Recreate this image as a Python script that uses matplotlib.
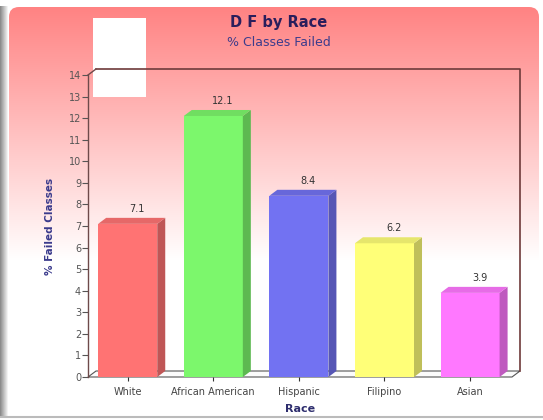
#!/usr/bin/env python

import numpy as np
import matplotlib
matplotlib.use('Agg')
import matplotlib.pyplot as plt
from matplotlib.patches import Polygon, Rectangle, FancyBboxPatch
from matplotlib.transforms import IdentityTransform

races = ['White', 'African American', 'Hispanic', 'Filipino', 'Asian']
failed = [7.1, 12.1, 8.4, 6.2, 3.9]
colors = ['#FF7373', '#7CF76C', '#7272F2', '#FFFF78', '#FF78FF']

W, H = 543, 420
DX, DY = 8, 6  # 3d depth in pixels


def shade(c, f):
    r, g, b = matplotlib.colors.to_rgb(c)
    return (r * f, g * f, b * f)


def main():
    fig = plt.figure(figsize=(W / 100, H / 100), dpi=100)
    fig.patch.set_facecolor('white')

    # background panel with pink gradient
    bg = fig.add_axes([0, 0, 1, 1])
    bg.set_xlim(0, W)
    bg.set_ylim(H, 0)
    bg.axis('off')
    shadow = np.linspace(0.55, 0.95, 8)[None, :].repeat(2, axis=0)
    bg.imshow(shadow, cmap='gray', vmin=0, vmax=1, extent=(0, 8, 416, 6),
              aspect='auto', zorder=0)
    grad = np.ones((H, 1, 3))
    t = np.clip(np.linspace(0, 1, H) / 0.62, 0, 1)[:, None]
    top = np.array([1.0, 0.50, 0.50])
    grad[:, 0, :] = top + (np.array([1.0, 1.0, 1.0]) - top) * t
    im = bg.imshow(grad, extent=(0, W, H, 0), aspect='auto', zorder=1)
    panel = FancyBboxPatch((9, 7), 530, 408, boxstyle='round,pad=0,rounding_size=10',
                           facecolor='none', edgecolor='none',
                           transform=bg.transData)
    bg.add_patch(panel)
    im.set_clip_path(panel)
    bg.plot([0, W], [417, 417], color='#BBBBBB', lw=1.5, zorder=2)
    # white box covering corner of the original
    bg.add_patch(Rectangle((93, 18), 53, 79, facecolor='white', edgecolor='none', zorder=5))

    # main plot (front plane)
    ax = fig.add_axes([88 / W, (H - 377) / H, (512 - 88) / W, (377 - 75) / H])
    ax.patch.set_alpha(0)
    ax.set_xlim(-0.464, 4.49)
    ax.set_ylim(0, 14)
    ax.set_yticks(range(0, 15))
    ax.set_xticks(range(len(races)))
    ax.set_xticklabels(races)
    for s in ['top', 'right', 'bottom']:
        ax.spines[s].set_visible(False)
    ax.spines['left'].set_color('#6E4A4A')
    ax.spines['left'].set_linewidth(1.0)
    ax.tick_params(axis='y', length=4, width=0.8, color='#555555', labelsize=7,
                   labelcolor='#555555', pad=1)
    ax.tick_params(axis='x', length=3, width=0.8, color='#333333', labelsize=7,
                   labelcolor='#444444', pad=4)

    fig.canvas.draw()
    tr = ax.transData

    def px(x, y):
        return tr.transform((x, y))

    # back wall and floor
    x0, x1 = ax.get_xlim()
    bl = px(x0, 0)
    br = px(x1, 0)
    tl = px(x0, 14)
    wall = [(tl[0] + DX, tl[1] + DY), (br[0] + DX, tl[1] + DY), (br[0] + DX, br[1] + DY)]
    ax.add_line(plt.Line2D([p[0] for p in wall], [p[1] for p in wall], transform=IdentityTransform(),
                           color='#6E3A3A', lw=1.2, clip_on=False))
    ax.add_line(plt.Line2D([tl[0], tl[0] + DX], [tl[1], tl[1] + DY], transform=IdentityTransform(),
                           color='#6E4A4A', lw=1.0, clip_on=False))
    floor = Polygon([bl, br, (br[0] + DX, br[1] + DY), (bl[0] + DX, bl[1] + DY)], closed=True,
                    transform=IdentityTransform(), facecolor='#FBFBFB', edgecolor='#555555',
                    lw=0.8, clip_on=False, zorder=1)
    ax.add_patch(floor)

    bw = 0.69
    bars = ax.bar(range(len(races)), failed, width=bw, color=colors, edgecolor='none', zorder=3)
    for i, (b, v, c) in enumerate(zip(bars, failed, colors)):
        bR = px(i + bw / 2, 0)
        tR = px(i + bw / 2, v)
        tL = px(i - bw / 2, v)
        side = Polygon([bR, (bR[0] + DX, bR[1] + DY), (tR[0] + DX, tR[1] + DY), tR], closed=True,
                       transform=IdentityTransform(), facecolor=shade(c, 0.75), edgecolor='none',
                       zorder=3, clip_on=False)
        topf = Polygon([tL, tR, (tR[0] + DX, tR[1] + DY), (tL[0] + DX, tL[1] + DY)], closed=True,
                       transform=IdentityTransform(), facecolor=shade(c, 0.9), edgecolor='none',
                       zorder=3, clip_on=False)
        ax.add_patch(side)
        ax.add_patch(topf)
        ax.annotate('%.1f' % v, (i, v), xytext=(DX * 0.72 + 1, DY * 0.72 + 3),
                    textcoords='offset points', ha='center', va='bottom', fontsize=7,
                    color='#333333')

    ax.set_ylabel('% Failed Classes', fontsize=7.5, fontweight='bold', color='#3A3A8C', labelpad=10)
    ax.set_xlabel('Race', fontsize=8, fontweight='bold', color='#2E2E6E', labelpad=5)

    fig.text(0.514, 1 - 22 / H, 'D F by Race', ha='center', va='center', fontsize=10.5,
             fontweight='bold', color='#2A1E5C')
    fig.text(0.514, 1 - 43 / H, '% Classes Failed', ha='center', va='center', fontsize=9,
             color='#3C3C8C')

    plt.savefig('out.png', dpi=100)
    plt.clf()


if __name__ == '__main__':
    main()
